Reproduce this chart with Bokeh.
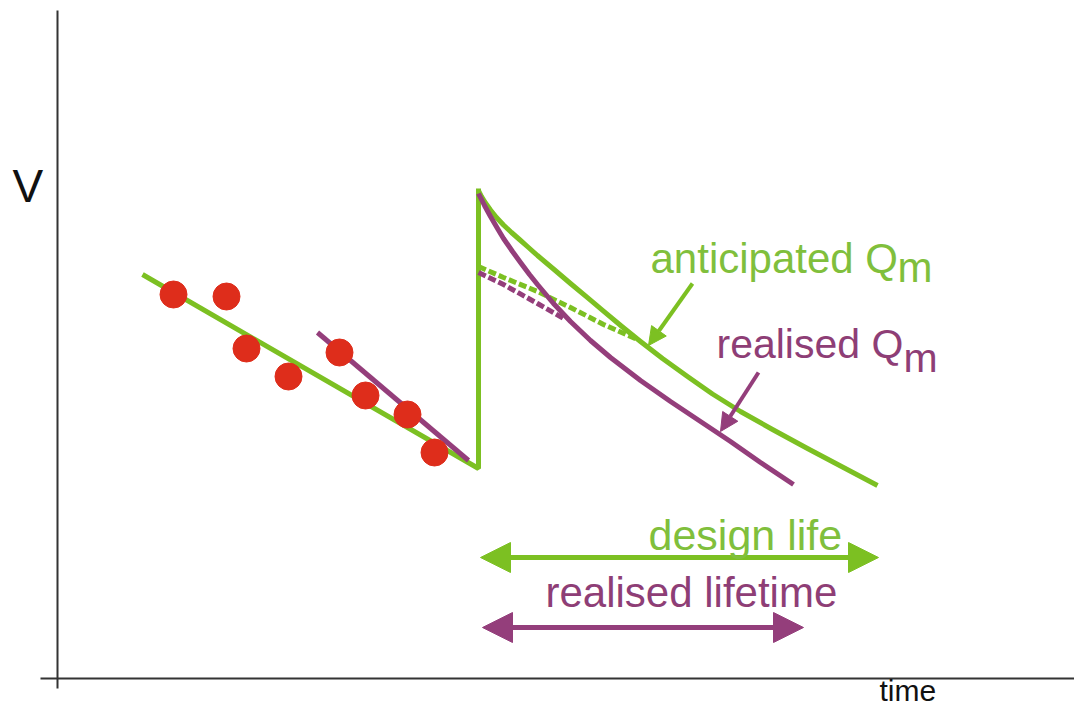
from bokeh.plotting import figure
from bokeh.models import Label, Arrow, NormalHead
from bokeh.embed import file_html
from bokeh.resources import INLINE

# ---- data (time t, volume V) ----
obs_t = [116, 169, 189, 231, 282, 308, 350, 377]
obs_v = [384, 382, 330, 302, 326, 283, 264, 226]

# anticipated trend before the intervention, then the jump up
trend_t = [85, 421, 421]
trend_v = [404, 210, 490]

# realised (steeper) recent trend
recent_t = [260, 411]
recent_v = [346, 218]

# anticipated Q_m decay after intervention
antic_t = [421, 424, 428, 433, 439, 446, 454, 462, 471, 480, 496, 513, 530, 546, 565,
           583, 605, 630, 655, 683, 715, 750, 785, 820]
antic_v = [488, 482, 475.5, 468.5, 461, 453.5, 446, 439, 431, 423, 409.5, 395, 380.8, 367.4, 351.5,
           337, 320, 302, 284.5, 267, 249, 230, 211.5, 193]

# realised Q_m decay after intervention
real_t = [421, 427, 433, 440, 446, 455, 463, 472, 480, 496, 513, 533, 553, 583,
          613, 643, 673, 703, 736]
real_v = [485, 473, 462, 450, 440, 427, 416, 404, 394, 375, 357, 338, 321, 298,
          277, 257, 237, 216, 194]

# dashed alternatives
antic_d_t = [421, 446, 480, 513, 546, 580]
antic_d_v = [412, 401, 387, 371, 354, 339]
real_d_t = [421, 446, 480, 508]
real_d_v = [406, 394, 375, 359]

# life spans (start, end, level)
design_life = (423, 821, 121)
realised_life = (425, 746, 51)

# axis lines
axis_v_t = [0, 0]
axis_v_v = [668, -10]
axis_h_t = [-17, 1018]
axis_h_v = [0, 0]

GREEN = "#7cc022"
PURPLE = "#943e7b"
RED = "#de2d1b"
GREEN_TXT = "#80bf3c"
PURPLE_TXT = "#8e3e76"
FONT = "Liberation Sans"

p = figure(width=1074, height=708, x_range=(-57, 1017), y_range=(-30, 678),
           output_backend="svg", toolbar_location=None, min_border=0,
           x_axis_type=None, y_axis_type=None)
p.grid.visible = False
p.outline_line_color = None
p.background_fill_color = "white"
p.border_fill_color = "white"

# axes
p.line(axis_v_t, axis_v_v, line_color="#333333", line_width=2)
p.line(axis_h_t, axis_h_v, line_color="#333333", line_width=2)

# trends
p.line(trend_t, trend_v, line_color=GREEN, line_width=5)
p.line(recent_t, recent_v, line_color=PURPLE, line_width=5)

# dashed
p.line(antic_d_t, antic_d_v, line_color=GREEN, line_width=5, line_dash="8 3")
p.line(real_d_t, real_d_v, line_color=PURPLE, line_width=5, line_dash="8 3")

# curves
p.line(antic_t, antic_v, line_color=GREEN, line_width=5, line_join="round")
p.line(real_t, real_v, line_color=PURPLE, line_width=5, line_join="round")

# observations
p.scatter(obs_t, obs_v, size=27, fill_color=RED, line_color=RED)

# double-headed life arrows
for (a, b, y), col in ((design_life, GREEN), (realised_life, PURPLE)):
    p.add_layout(Arrow(
        start=NormalHead(size=30, fill_color=col, line_color=col),
        end=NormalHead(size=30, fill_color=col, line_color=col),
        x_start=a, y_start=y, x_end=b, y_end=y,
        line_color=col, line_width=5))

# pointer arrows
p.add_layout(Arrow(end=NormalHead(size=18, fill_color=GREEN, line_color=GREEN),
                   x_start=635, y_start=395, x_end=591, y_end=333,
                   line_color=GREEN, line_width=4))
p.add_layout(Arrow(end=NormalHead(size=18, fill_color=PURPLE, line_color=PURPLE),
                   x_start=701, y_start=306, x_end=663, y_end=247,
                   line_color=PURPLE, line_width=4))

def lab(text, x, y, size, color):
    p.add_layout(Label(x=x, y=y, text=text, text_font=FONT,
                       text_font_size=f"{size}px", text_color=color,
                       text_baseline="alphabetic", text_align="left"))

lab("V", -45, 493, 46, "#111111")
lab("time", 822, -12, 30, "#111111")
lab("anticipated Q", 593, 420, 42, GREEN_TXT)
lab("m", 840, 411, 42, GREEN_TXT)
lab("realised Q", 659, 335, 41, PURPLE_TXT)
lab("m", 846, 321, 41, PURPLE_TXT)
lab("design life", 591, 144, 43, GREEN_TXT)
lab("realised lifetime", 488, 86, 42, PURPLE_TXT)

open("out.html", "w").write(file_html(p, INLINE))
